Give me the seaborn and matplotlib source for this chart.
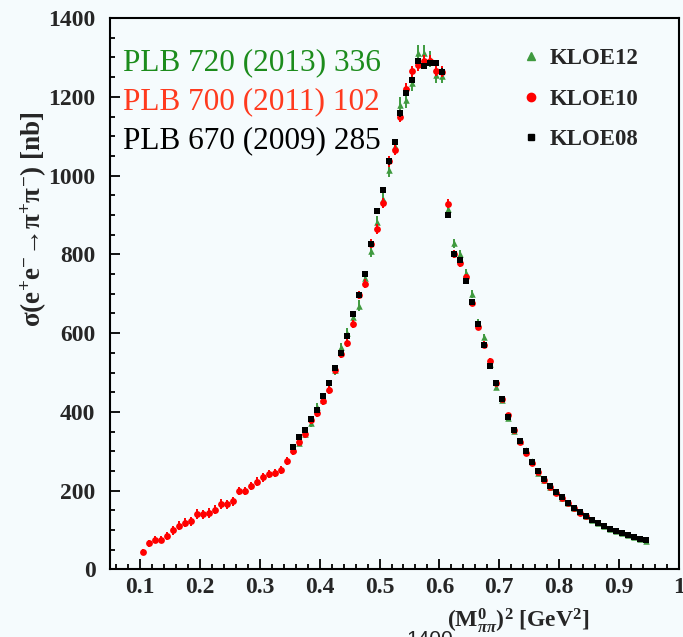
import numpy as np
import pandas as pd
import matplotlib
matplotlib.use("Agg")
import matplotlib.pyplot as plt
import seaborn as sns
from matplotlib.lines import Line2D
from matplotlib.ticker import MultipleLocator, FixedLocator, FixedFormatter
from matplotlib.font_manager import FontProperties

# Bin centres in M^2 (GeV^2)
bin_centers = [0.105, 0.115, 0.125, 0.135, 0.145, 0.155, 0.165, 0.175, 0.185, 0.195,
               0.205, 0.215, 0.225, 0.235, 0.245, 0.255, 0.265, 0.275, 0.285, 0.295,
               0.305, 0.315, 0.325, 0.335, 0.345, 0.355, 0.365, 0.375, 0.385, 0.395,
               0.405, 0.415, 0.425, 0.435, 0.445, 0.455, 0.465, 0.475, 0.485, 0.495,
               0.505, 0.515, 0.525, 0.535, 0.545, 0.555, 0.565, 0.575, 0.585, 0.595,
               0.605, 0.615, 0.625, 0.635, 0.645, 0.655, 0.665, 0.675, 0.685, 0.695,
               0.705, 0.715, 0.725, 0.735, 0.745, 0.755, 0.765, 0.775, 0.785, 0.795,
               0.805, 0.815, 0.825, 0.835, 0.845, 0.855, 0.865, 0.875, 0.885, 0.895,
               0.905, 0.915, 0.925, 0.935, 0.945]

# KLOE10: 0.10 - 0.85 GeV^2
kloe10_x = bin_centers[:75]
kloe10_sigma = [44, 66, 76, 76, 85, 99, 111, 119, 122, 141, 140, 143, 152, 166, 165,
                173, 199, 199, 212, 223, 234, 242, 245, 252, 276,
                301, 324, 344, 379, 396, 428, 456, 506, 546, 576, 623, 697, 726, 827,
                864, 931, 1036, 1066, 1149, 1221, 1265, 1280, 1291, 1291, 1266, 1264,
                929, 800, 779, 742, 677, 616, 571, 530, 474, 432, 391, 353, 324, 296,
                270, 247, 228, 209, 195, 182, 168, 155, 144, 135]
kloe10_err = [8, 10, 10, 10, 10, 11, 11, 11, 11, 12, 12, 12, 12, 12, 12, 12, 11, 11,
              11, 11, 11, 11, 10, 10, 10,
              10, 10, 10, 10, 10, 10, 10, 10, 10, 11, 11, 11, 12, 12, 12, 13, 13, 13,
              14, 14, 14, 14, 14, 14, 14, 14,
              12, 10, 10, 9, 9, 8, 8, 7, 7, 6, 6, 5, 5, 5, 5, 4, 4, 4, 4, 3, 3, 3, 3, 3]

# KLOE08: 0.35 - 0.95 GeV^2
kloe08_x = bin_centers[25:]
kloe08_sigma = [310, 336, 355, 381, 406, 440, 473, 512, 550, 593, 648, 697, 750, 827,
                909, 964, 1036, 1086, 1158, 1210, 1242, 1291, 1279, 1286, 1285, 1264,
                900, 801, 785, 732, 680, 622, 571, 517, 474, 432, 388, 355, 326, 300,
                272, 249, 229, 211, 197, 183, 170, 157, 146, 136, 126, 119, 111, 104,
                98, 93, 88, 83, 78, 74]
kloe08_err = [4, 4, 4, 4, 4, 5, 5, 5, 5, 6, 6, 6, 7, 7, 7, 7, 8, 8, 8, 8, 8, 8, 8, 8, 8, 8,
              7, 6, 6, 6, 5, 5, 5, 5, 4, 4, 4, 4, 4, 3, 3, 3, 3, 3, 3, 3,
              2, 2, 2, 2, 2, 2, 2, 2, 2, 2, 2, 2, 2, 2]

# KLOE12: 0.35 - 0.95 GeV^2
kloe12_x = bin_centers[25:]
kloe12_sigma = [305, 322, 345, 371, 412, 430, 460, 506, 564, 600, 641, 669, 740, 808,
                882, 940, 1014, 1075, 1180, 1192, 1235, 1311, 1311, 1296, 1255, 1252,
                915, 828, 801, 753, 699, 626, 591, 522, 464, 430, 384, 352, 326, 303,
                275, 245, 226, 210, 196, 182, 169, 156, 145, 135, 125, 118, 110, 103,
                97, 92, 87, 82, 77, 73]
kloe12_err = [9, 9, 9, 10, 10, 10, 11, 11, 12, 13, 13, 14, 15, 15, 16, 17, 17, 18, 19,
              20, 20, 21, 21, 20, 19, 18,
              14, 12, 11, 10, 10, 9, 8, 8, 7, 7, 6, 6, 5, 5, 5, 4, 4, 4, 4, 3, 3, 3,
              3, 3, 3, 2, 2, 2, 2, 2, 2, 2, 2, 2]

x_ticks = [0.1, 0.2, 0.3, 0.4, 0.5, 0.6, 0.7, 0.8, 0.9, 1.0]
x_tick_labels = ["0.1", "0.2", "0.3", "0.4", "0.5", "0.6", "0.7", "0.8", "0.9", "1"]
y_ticks = [0, 200, 400, 600, 800, 1000, 1200, 1400]
y_tick_labels = ["0", "200", "400", "600", "800", "1000", "1200", "1400"]

publications = ["PLB 720 (2013) 336", "PLB 700 (2011) 102", "PLB 670 (2009) 285"]
series_names = ["KLOE12", "KLOE10", "KLOE08"]

GREEN = "#3f9a3f"
RED = "#ff0000"
BLACK = "#000000"
PUB_COLORS = ["#1c8c1c", "#ff3a1e", "#000000"]
BG = "#f5fbfd"

sns.set_style("ticks")
plt.rcParams["font.family"] = ["Liberation Serif", "DejaVu Serif"]
plt.rcParams["mathtext.fontset"] = "custom"
plt.rcParams["mathtext.rm"] = "Liberation Serif:bold"
plt.rcParams["mathtext.bf"] = "Liberation Serif:bold"
plt.rcParams["mathtext.it"] = "Liberation Serif:italic:bold"

fig = plt.figure(figsize=(6.83, 6.37), dpi=100, facecolor=BG)
ax = fig.add_axes([0.1611, 0.106, 0.8330, 0.8657], facecolor=BG)

df12 = pd.DataFrame({"m2": kloe12_x, "sigma": kloe12_sigma, "err": kloe12_err})
df10 = pd.DataFrame({"m2": kloe10_x, "sigma": kloe10_sigma, "err": kloe10_err})
df08 = pd.DataFrame({"m2": kloe08_x, "sigma": kloe08_sigma, "err": kloe08_err})

# Error bars (no caps), drawn under the markers
ax.errorbar(df12["m2"], df12["sigma"], yerr=df12["err"], fmt="none",
            ecolor=GREEN, elinewidth=1.4, capsize=0, zorder=2)
ax.errorbar(df10["m2"], df10["sigma"], yerr=df10["err"], fmt="none",
            ecolor=RED, elinewidth=1.4, capsize=0, zorder=3)
ax.errorbar(df08["m2"], df08["sigma"], yerr=df08["err"], fmt="none",
            ecolor=BLACK, elinewidth=1.2, capsize=0, zorder=4)

sns.scatterplot(data=df12, x="m2", y="sigma", marker="^", s=22, color=GREEN,
                linewidth=0, ax=ax, zorder=2.5)
sns.scatterplot(data=df10, x="m2", y="sigma", marker="o", s=24, color=RED,
                linewidth=0, ax=ax, zorder=3.5)
sns.scatterplot(data=df08, x="m2", y="sigma", marker="s", s=18, color=BLACK,
                linewidth=0, ax=ax, zorder=4.5)

ax.set_xlim(0.05, 1.0)
ax.set_ylim(0, 1400)
ax.set_xlabel("")
ax.set_ylabel("")

ax.xaxis.set_major_locator(FixedLocator(x_ticks))
ax.xaxis.set_major_formatter(FixedFormatter(x_tick_labels))
ax.xaxis.set_minor_locator(MultipleLocator(0.02))
ax.yaxis.set_major_locator(FixedLocator(y_ticks))
ax.yaxis.set_major_formatter(FixedFormatter(y_tick_labels))
ax.yaxis.set_minor_locator(MultipleLocator(50))

ax.tick_params(axis="both", which="both", direction="in", top=False, right=False,
               color="black")
ax.tick_params(axis="both", which="major", length=7.5, width=1.3)
ax.tick_params(axis="both", which="minor", length=3.8, width=1.3)
ax.tick_params(axis="y", which="major", pad=10.5)
ax.tick_params(axis="x", which="major", pad=5.5)
for lab in ax.get_xticklabels() + ax.get_yticklabels():
    lab.set_fontfamily(["Liberation Serif", "DejaVu Serif"])
    lab.set_fontweight("bold")
    lab.set_fontsize(17)

for side in ["left", "bottom", "top", "right"]:
    ax.spines[side].set_visible(True)
    ax.spines[side].set_linewidth(1.5)
    ax.spines[side].set_color("black")

# Axis titles
ax.text(-0.1336, 0.636,
        "σ(e$^{+}$e$^{-}$→π$^{+}$π$^{-}$) [nb]",
        transform=ax.transAxes, rotation=90, ha="center", va="center",
        fontsize=19.5, fontweight="bold", family=["Liberation Serif", "DejaVu Serif"])
ax.text(0.717, -0.092,
        r"(M$_{\pi\pi}^{0}$)$^{2}$ [GeV$^{2}$]",
        transform=ax.transAxes, ha="center", va="center",
        fontsize=17, fontweight="bold", family=["Liberation Serif", "DejaVu Serif"])

# Publication references
for i, (txt, col) in enumerate(zip(publications, PUB_COLORS)):
    ax.text(0.0228, 0.9185 - i * 0.0705, txt, transform=ax.transAxes,
            ha="left", va="center", fontsize=22.5, color=col,
            family=["Liberation Serif", "DejaVu Serif"])

# Legend
handles = [
    Line2D([], [], marker="^", color=GREEN, linestyle="none", markersize=6),
    Line2D([], [], marker="o", color=RED, linestyle="none", markersize=6),
    Line2D([], [], marker="s", color=BLACK, linestyle="none", markersize=5),
]
leg = ax.legend(handles, series_names, loc="upper left",
                bbox_to_anchor=(0.719, 0.945), frameon=False, borderpad=0,
                borderaxespad=0, handlelength=1.0, handletextpad=0.35,
                labelspacing=0.85,
                prop=FontProperties(family="Liberation Serif", weight="bold", size=16.5))

# Stray label fragment at the lower edge
fig.text(430 / 683, 7 / 637, "1400", ha="center", va="top", fontsize=15,
         color="#222222", family=["Liberation Sans", "DejaVu Sans"])

fig.savefig("out.png", dpi=100, facecolor=BG)
